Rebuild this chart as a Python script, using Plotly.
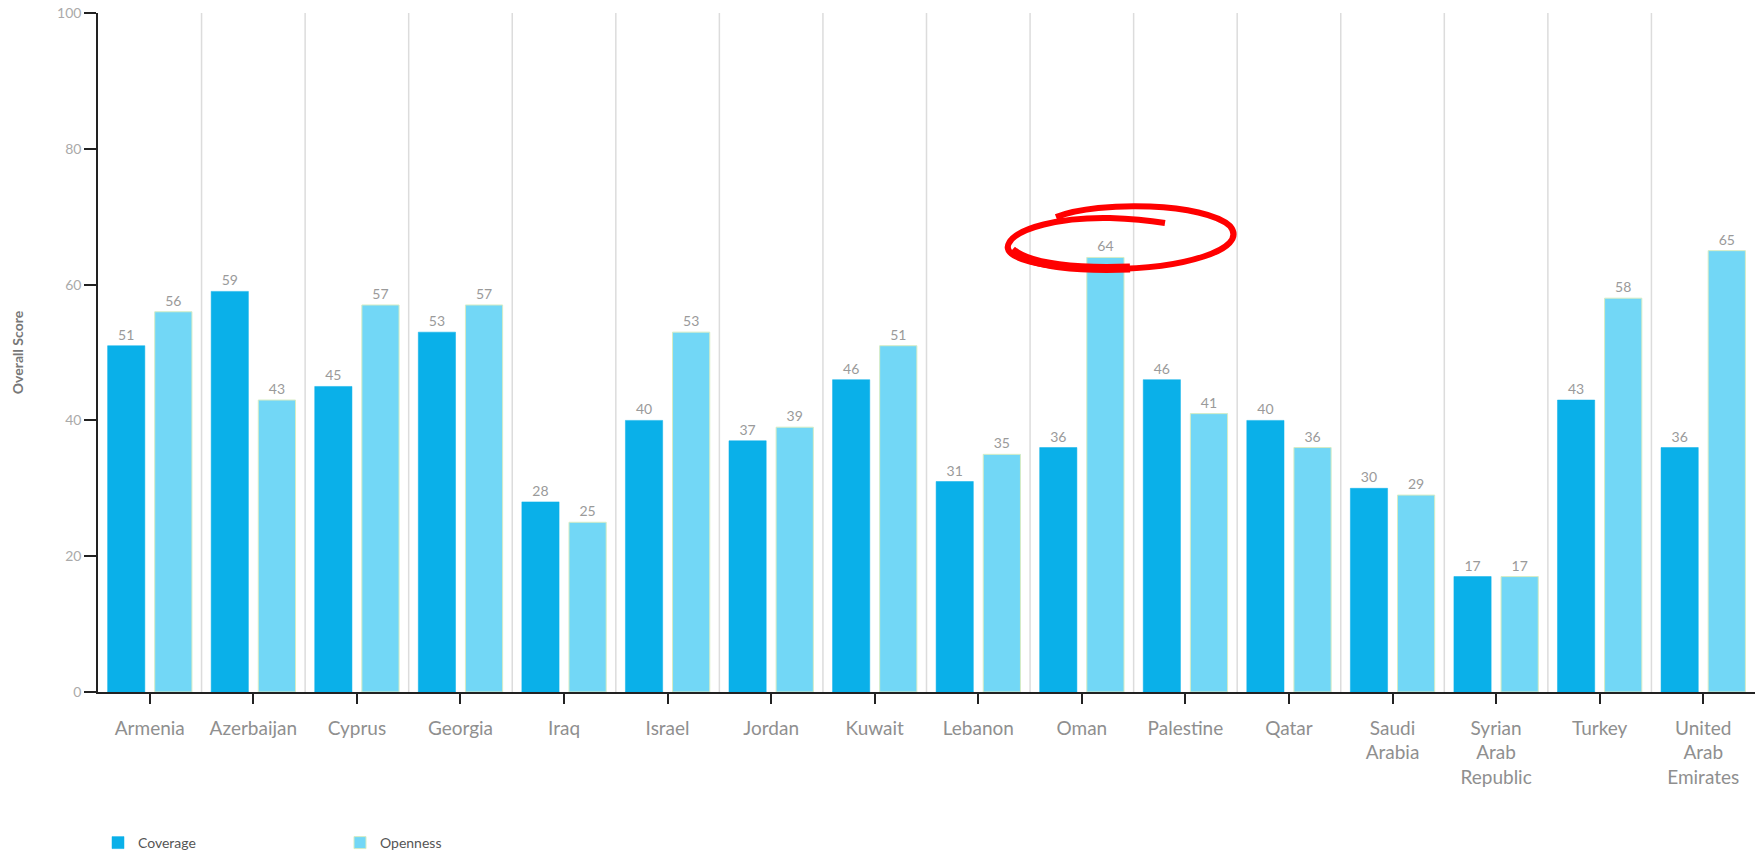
import numpy as np
import plotly.graph_objects as go

countries = ["Armenia", "Azerbaijan", "Cyprus", "Georgia", "Iraq", "Israel", "Jordan",
             "Kuwait", "Lebanon", "Oman", "Palestine", "Qatar", "Saudi<br>Arabia",
             "Syrian<br>Arab<br>Republic", "Turkey", "United<br>Arab<br>Emirates"]
coverage = [51, 59, 45, 53, 28, 40, 37, 46, 31, 36, 46, 40, 30, 17, 43, 36]
openness = [56, 43, 57, 57, 25, 53, 39, 51, 35, 64, 41, 36, 29, 17, 58, 65]
y_ticks = [0, 20, 40, 60, 80, 100]

W, H = 1758, 854
L, R, T, B = 98, 3, 13, 162
pw, ph = W - L - R, H - T - B

FONT = "Lato, 'Open Sans', sans-serif"
GRAY = "#8f8f8f"

fig = go.Figure()
fig.add_trace(go.Bar(
    name="Coverage", x=countries, y=coverage,
    marker=dict(color="#0AB0E9", line=dict(color="#0AB0E9", width=0.5)),
    text=coverage, textposition="outside", cliponaxis=False,
    textfont=dict(family=FONT, size=14, color="#9a9a9a"),
))
fig.add_trace(go.Bar(
    name="Openness", x=countries, y=openness,
    marker=dict(color="#72D7F6", line=dict(color="#d6ecc4", width=1)),
    text=openness, textposition="outside", cliponaxis=False,
    textfont=dict(family=FONT, size=14, color="#9a9a9a"),
))

shapes = []
for i in range(len(countries) - 1):
    shapes.append(dict(type="line", xref="x", yref="y", x0=i + 0.5, x1=i + 0.5,
                       y0=0, y1=100, line=dict(color="#dcdcdc", width=1.5), layer="below"))

# red hand-drawn highlight stroke around the Oman openness label (page px -> paper)
def P(px, py):
    return f"{(px - L) / pw:.5f},{(H - B - py) / ph:.5f}"

stroke = (f"M {P(1056, 217)} "
          f"C {P(1100, 200)} {P(1205, 203)} {P(1230, 226)} "
          f"C {P(1250, 250)} {P(1180, 269)} {P(1110, 269)} "
          f"C {P(1040, 269)} {P(1000, 258)} {P(1009, 243)} "
          f"C {P(1017, 228)} {P(1060, 217)} {P(1110, 218)} "
          f"Q {P(1140, 219)} {P(1165, 223)}")
shapes.append(dict(type="path", xref="paper", yref="paper", path=stroke,
                   line=dict(color="#ff0000", width=6)))
thick = (f"M {P(1012, 250)} C {P(1030, 266)} {P(1080, 270)} {P(1130, 268)}")
shapes.append(dict(type="path", xref="paper", yref="paper", path=thick,
                   line=dict(color="#ff0000", width=9)))

fig.update_layout(
    width=W, height=H,
    margin=dict(l=L, r=R, t=T, b=B, autoexpand=False),
    plot_bgcolor="white", paper_bgcolor="white",
    barmode="group", bargap=0.09, bargroupgap=0.21,
    font=dict(family=FONT, color=GRAY),
    showlegend=True,
    legend=dict(orientation="h", x=0, xanchor="left",
                yref="container", y=(854 - 843) / H, yanchor="middle",
                font=dict(family=FONT, size=14, color="#555"),
                entrywidth=197, entrywidthmode="pixels", traceorder="normal"),
    shapes=shapes,
    xaxis=dict(showgrid=False, showline=True, linecolor="#222", linewidth=1.5,
               ticks="outside", ticklen=10, tickcolor="#222", tickwidth=1.5,
               ticklabelstandoff=8,
               tickfont=dict(family=FONT, size=19, color=GRAY),
               range=[-0.5, len(countries) - 0.5]),
    yaxis=dict(range=[0, 100], tickvals=y_ticks, showgrid=False, zeroline=False,
               showline=True, linecolor="#222", linewidth=1.5,
               ticks="outside", ticklen=12, tickcolor="#222", tickwidth=1.5,
               tickfont=dict(family=FONT, size=14, color="#aaaaaa"),
               title=dict(text="<b>Overall Score</b>", standoff=30,
                          font=dict(family=FONT, size=14, color="#777"))),
)

fig.write_html("out.html", config={"displayModeBar": False},
               post_script="document.body.style.margin='0';document.body.style.overflow='hidden';")
